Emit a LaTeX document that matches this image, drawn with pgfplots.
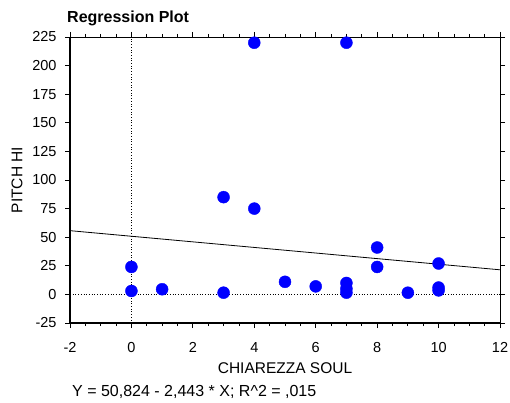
\documentclass[border=0pt]{standalone}
\usepackage{fontspec}
\setmainfont{Liberation Sans}
\usepackage{pgfplots}
\pgfplotsset{compat=1.18}
\definecolor{ptblue}{RGB}{0,0,255}
\begin{document}
\begin{tikzpicture}
\path[use as bounding box] (-70pt,-80pt) rectangle (440pt,323pt);
\begin{axis}[
  at={(0,0)}, anchor=south west,
  scale only axis, width=430pt, height=286pt,
  xmin=-2, xmax=12, ymin=-25, ymax=225,
  xtick={-2,0,...,12}, ytick={-25,0,...,225},
  minor x tick num=3,
  tick align=outside,
  major tick length=5pt, minor tick length=3pt,
  tick style={black, line width=0.8pt},
  axis line style={line width=0.8pt},
  /pgf/number format/assume math mode=true,
  ticklabel style={font=\fontsize{14.5}{14.5}\selectfont},
  xticklabel style={yshift=-11pt},
  yticklabel style={xshift=-5pt},
  xlabel={CHIAREZZA SOUL},
  ylabel={PITCH HI},
  label style={font=\fontsize{15.5}{15.5}\selectfont},
  xlabel style={at={(axis description cs:0.5,0)}, anchor=center, yshift=-45pt},
  ylabel style={at={(axis description cs:0,0.5)}, anchor=center, yshift=53pt},
  clip=false,
]
\draw[dotted, line width=0.7pt] (axis cs:0,-25) -- (axis cs:0,225);
\draw[dotted, line width=0.7pt] (axis cs:-2,0) -- (axis cs:12,0);
\addplot[black, line width=0.8pt, no marks] coordinates {(-2,55.710) (12,21.508)};
\addplot[only marks, mark=*, mark size=6pt, ptblue, mark options={fill=ptblue, draw=ptblue}] coordinates {
(4,220) (7,220) (3,85) (4,75) (0,24) (0,3) (1,4.5) (3,1.5)
(5,11) (6,7) (7,10) (7,5) (7,1.5) (8,41) (8,24) (9,1.5)
(10,27) (10,6) (10,3.5)
};
\draw[line width=1.8pt] (rel axis cs:0,1) -- (rel axis cs:0,0) -- (rel axis cs:1,0);
\node[anchor=base west, font=\fontsize{16}{16}\selectfont\bfseries, inner sep=0pt] at ([xshift=-3pt,yshift=14pt]rel axis cs:0,1) {Regression Plot};
\node[anchor=west, font=\fontsize{16}{16}\selectfont, inner sep=0pt] at ([xshift=2pt,yshift=-69pt]rel axis cs:0,0) {Y = 50,824 - 2,443 * X; R\^{}2 = ,015};
\end{axis}
\end{tikzpicture}
\end{document}
